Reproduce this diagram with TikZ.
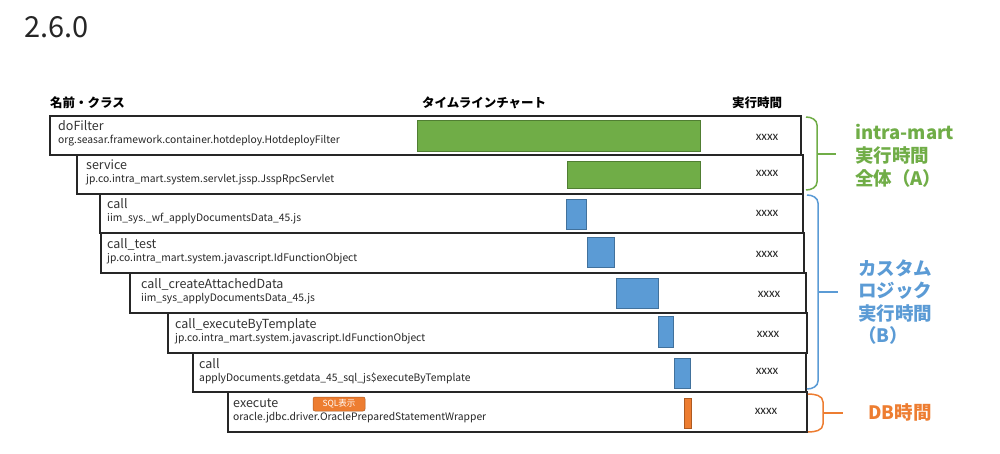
\documentclass[tikz,border=0pt]{standalone}
\usepackage{fontspec}
\setmainfont{Noto Sans CJK JP}
\newfontfamily\timefont{Carlito}
\usetikzlibrary{calc}
\definecolor{imgreen}{HTML}{70AD47}
\definecolor{imgreenD}{HTML}{507E32}
\definecolor{imblue}{HTML}{5B9BD5}
\definecolor{imblueD}{HTML}{41719C}
\definecolor{imorange}{HTML}{ED7D31}
\definecolor{imorangeD}{HTML}{AE5A21}
\begin{document}
\begin{tikzpicture}[x=1pt,y=-1pt,
  rowbox/.style={draw=black!85, line width=1.3pt, fill=white, anchor=north west, inner sep=0pt, outer sep=0pt},
  nm/.style={anchor=base west, inner sep=0pt, text=black!80, font=\fontsize{12.5}{14}\selectfont},
  cls/.style={anchor=base west, inner sep=0pt, text=black!85, font=\fontsize{10.3}{12}\selectfont},
  barbox/.style={anchor=north west, inner sep=0pt, outer sep=0pt, line width=0.8pt},
  gbar/.style={barbox, draw=imgreenD, fill=imgreen},
  bbar/.style={barbox, draw=imblueD, fill=imblue},
  obar/.style={barbox, draw=imorangeD, fill=imorange},
  tm/.style={inner sep=0pt, text=black!85, font=\timefont\fontsize{13}{15}\selectfont},
  hdr/.style={anchor=base west, inner sep=0pt, font=\bfseries\fontsize{12.5}{14}\selectfont},
  lbl/.style={anchor=base west, inner sep=0pt, font=\bfseries\fontsize{18.5}{22}\selectfont},
  brace/.style={line width=1.5pt}
]
\useasboundingbox (0,0) rectangle (1000,454);

% title
\node[anchor=base west, inner sep=0pt, text=black!85, font=\fontsize{29}{33}\selectfont] (title) at (24,38) {2.6.0};

% headers
\node[hdr] (h1) at (50,108) {名前・クラス};
\node[hdr] (h2) at (422,108) {タイムラインチャート};
\node[hdr] (h3) at (732,108) {実行時間};

% rows
\node[rowbox, minimum width=751pt, minimum height=39pt] (r1) at (50,116) {};
\node[rowbox, minimum width=726pt, minimum height=39pt] (r2) at (77,155) {};
\node[rowbox, minimum width=703pt, minimum height=39pt] (r3) at (100,194) {};
\node[rowbox, minimum width=703pt, minimum height=40pt] (r4) at (101,233) {};
\node[rowbox, minimum width=676pt, minimum height=40pt] (r5) at (130,273) {};
\node[rowbox, minimum width=639pt, minimum height=40pt] (r6) at (168,313) {};
\node[rowbox, minimum width=613pt, minimum height=39pt] (r7) at (193,353) {};
\node[rowbox, minimum width=579pt, minimum height=40pt] (r8) at (228,392) {};

% names and classes
\node[nm] (n1) at ($(r1.north west)+(8,15)$) {doFilter};
\node[cls] (c1) at ($(r1.north west)+(8,28)$) {org.seasar.framework.container.hotdeploy.HotdeployFilter};
\node[nm] (n2) at ($(r2.north west)+(9,15)$) {service};
\node[cls] (c2) at ($(r2.north west)+(9,28)$) {jp.co.intra\_mart.system.servlet.jssp.JsspRpcServlet};
\node[nm] (n3) at ($(r3.north west)+(7,15)$) {call};
\node[cls] (c3) at ($(r3.north west)+(7,28)$) {iim\_sys.\_wf\_applyDocumentsData\_45.js};
\node[nm] (n4) at ($(r4.north west)+(6,15)$) {call\_test};
\node[cls] (c4) at ($(r4.north west)+(6,28)$) {jp.co.intra\_mart.system.javascript.IdFunctionObject};
\node[nm] (n5) at ($(r5.north west)+(11,15)$) {call\_createAttachedData};
\node[cls] (c5) at ($(r5.north west)+(11,28)$) {iim\_sys\_applyDocumentsData\_45.js};
\node[nm] (n6) at ($(r6.north west)+(7,15)$) {call\_executeByTemplate};
\node[cls] (c6) at ($(r6.north west)+(7,28)$) {jp.co.intra\_mart.system.javascript.IdFunctionObject};
\node[nm] (n7) at ($(r7.north west)+(6,15)$) {call};
\node[cls] (c7) at ($(r7.north west)+(6,28)$) {applyDocuments.getdata\_45\_sql\_js\$executeByTemplate};
\node[nm] (n8) at ($(r8.north west)+(5,15)$) {execute};
\node[cls] (c8) at ($(r8.north west)+(5,28)$) {oracle.jdbc.driver.OraclePreparedStatementWrapper};

% SQL button
\node[draw=imorangeD, fill=imorange, rounded corners=2pt, line width=0.5pt, text=white,
      font=\fontsize{8.5}{10}\selectfont, minimum width=52pt, minimum height=14pt, inner sep=0pt] (sql) at (339,404) {SQL表示};

% bars
\node[gbar, minimum width=283pt, minimum height=31pt] (b1) at (417,120) {};
\node[gbar, minimum width=133pt, minimum height=27pt] (b2) at (567,161) {};
\node[bbar, minimum width=20pt, minimum height=30pt] (b3) at (566,199) {};
\node[bbar, minimum width=27pt, minimum height=30pt] (b4) at (587,237) {};
\node[bbar, minimum width=42pt, minimum height=30pt] (b5) at (616,278) {};
\node[bbar, minimum width=15pt, minimum height=31pt] (b6) at (658,316) {};
\node[bbar, minimum width=16pt, minimum height=30pt] (b7) at (674,358) {};
\node[obar, minimum width=7pt, minimum height=30pt] (b8) at (684,398) {};

% times
\node[tm] (t1) at (767,137) {xxxx};
\node[tm] (t2) at (767,173) {xxxx};
\node[tm] (t3) at (767,213) {xxxx};
\node[tm] (t4) at (767,254) {xxxx};
\node[tm] (t5) at (769,294) {xxxx};
\node[tm] (t6) at (768,334) {xxxx};
\node[tm] (t7) at (767,371) {xxxx};
\node[tm] (t8) at (766,411) {xxxx};

% braces
\draw[brace, imgreen] (806,117) to[out=0,in=90] (817,125) -- (817,182) to[out=-90,in=0] (806,190);
\draw[brace, imgreen] (817,154) -- (836,154);
\draw[brace, imblue] (807,195) to[out=0,in=90] (818,203) -- (818,381) to[out=-90,in=0] (807,389);
\draw[brace, imblue] (818,292) -- (838,292);
\draw[brace, imorange] (808,394) to[out=0,in=90] (823,402) -- (823,424) to[out=-90,in=0] (808,432);
\draw[brace, imorange] (823,413) -- (843,413);

% labels
\node[lbl, text=imgreen] (la1) at (855,140) {intra-mart};
\node[lbl, text=imgreen] (la2) at (855,163) {実行時間};
\node[lbl, text=imgreen] (la3) at (855,186) {全体（A）};
\node[lbl, text=imblue] (lb1) at (858,275) {カスタム};
\node[lbl, text=imblue] (lb2) at (858,297) {ロジック};
\node[lbl, text=imblue] (lb3) at (858,320) {実行時間};
\node[lbl, text=imblue] (lb4) at (858,342) {（B）};
\node[lbl, text=imorange] (lc1) at (868,419) {DB時間};
\end{tikzpicture}
\end{document}
